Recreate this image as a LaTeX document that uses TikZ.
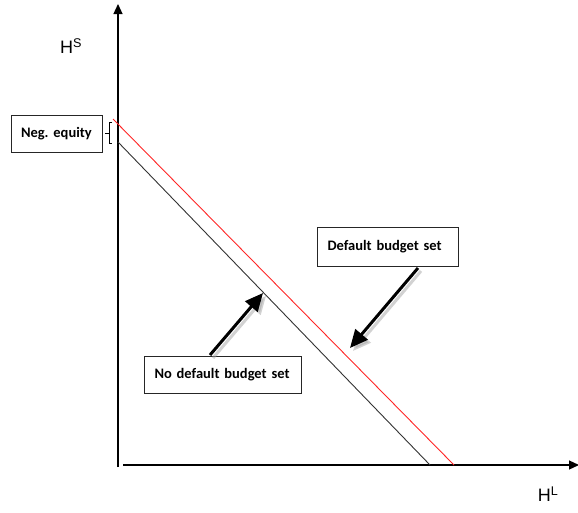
\documentclass[tikz,border=0pt]{standalone}
\usepackage{fontspec}
\setmainfont{Carlito}
\newfontfamily\axisfont{Liberation Sans}
\usetikzlibrary{arrows.meta}
\tikzset{
  labelbox/.style={draw=black!85, line width=0.8pt, fill=white, font=\bfseries\fontsize{14.5}{16}\selectfont, inner ysep=0pt, inner xsep=10.5pt, align=left},
  axisline/.style={line width=1.2pt, -{Triangle[width=9pt,length=10pt]}},
  bigarrow/.style={line width=3pt, -{Triangle[width=16pt,length=18pt]}},
  shadowarrow/.style={bigarrow, draw=black!35, opacity=0.5},
  axislabel/.style={font=\axisfont\fontsize{18}{20}\selectfont, inner sep=0pt}
}
\begin{document}
\begin{tikzpicture}[x=1pt,y=-1pt]
\useasboundingbox (0,0) rectangle (578,512);
% axes
\coordinate (O) at (118,467);
\coordinate (Ytop) at (118,4);
\coordinate (Xs) at (123,465);
\coordinate (Xend) at (579,465);
\draw[axisline] (O) -- (Ytop);
\draw[axisline] (Xs) -- (Xend);
% budget lines
\coordinate (B1) at (118,142);
\coordinate (B2) at (430,465);
\coordinate (R1) at (113,119);
\coordinate (R2) at (454,465);
\draw[black!80, line width=0.9pt] (B1) -- (B2);
\draw[red!85!white, line width=0.9pt] (R1) -- (R2);
% bracket
\coordinate (k1) at (112,122);
\coordinate (k2) at (109,122);
\coordinate (k3) at (109,143);
\coordinate (k4) at (112,143);
\coordinate (k5) at (109,133);
\coordinate (k6) at (105,133);
\draw[line width=0.9pt] (k1) -- (k2) -- (k3) -- (k4);
\draw[line width=0.9pt] (k5) -- (k6);
% boxes
\node[labelbox, inner xsep=9.5pt, text width=72pt, minimum height=37pt] (neg) at (57,133.5) {Neg.\ equity};
\node[labelbox, text width=120pt, minimum height=39pt] (def) at (387.5,246.5) {Default budget set};
\node[labelbox, text width=136pt, minimum height=37pt] (nodef) at (222.5,374.5) {No default budget set};
% labels
\node[axislabel] (hs) at (71,46) {H\textsuperscript{S}};
\node[axislabel] (hl) at (548,494) {H\textsuperscript{L}};
% arrows
\coordinate (a1s) at (418,268);
\coordinate (a1e) at (350,348);
\coordinate (a2s) at (210,355);
\coordinate (a2e) at (263,293);
\draw[shadowarrow] ([shift={(3,3)}]a1s) -- ([shift={(3,3)}]a1e);
\draw[shadowarrow] ([shift={(3,3)}]a2s) -- ([shift={(3,3)}]a2e);
\draw[bigarrow] (a1s) -- (a1e);
\draw[bigarrow] (a2s) -- (a2e);
\end{tikzpicture}
\end{document}
